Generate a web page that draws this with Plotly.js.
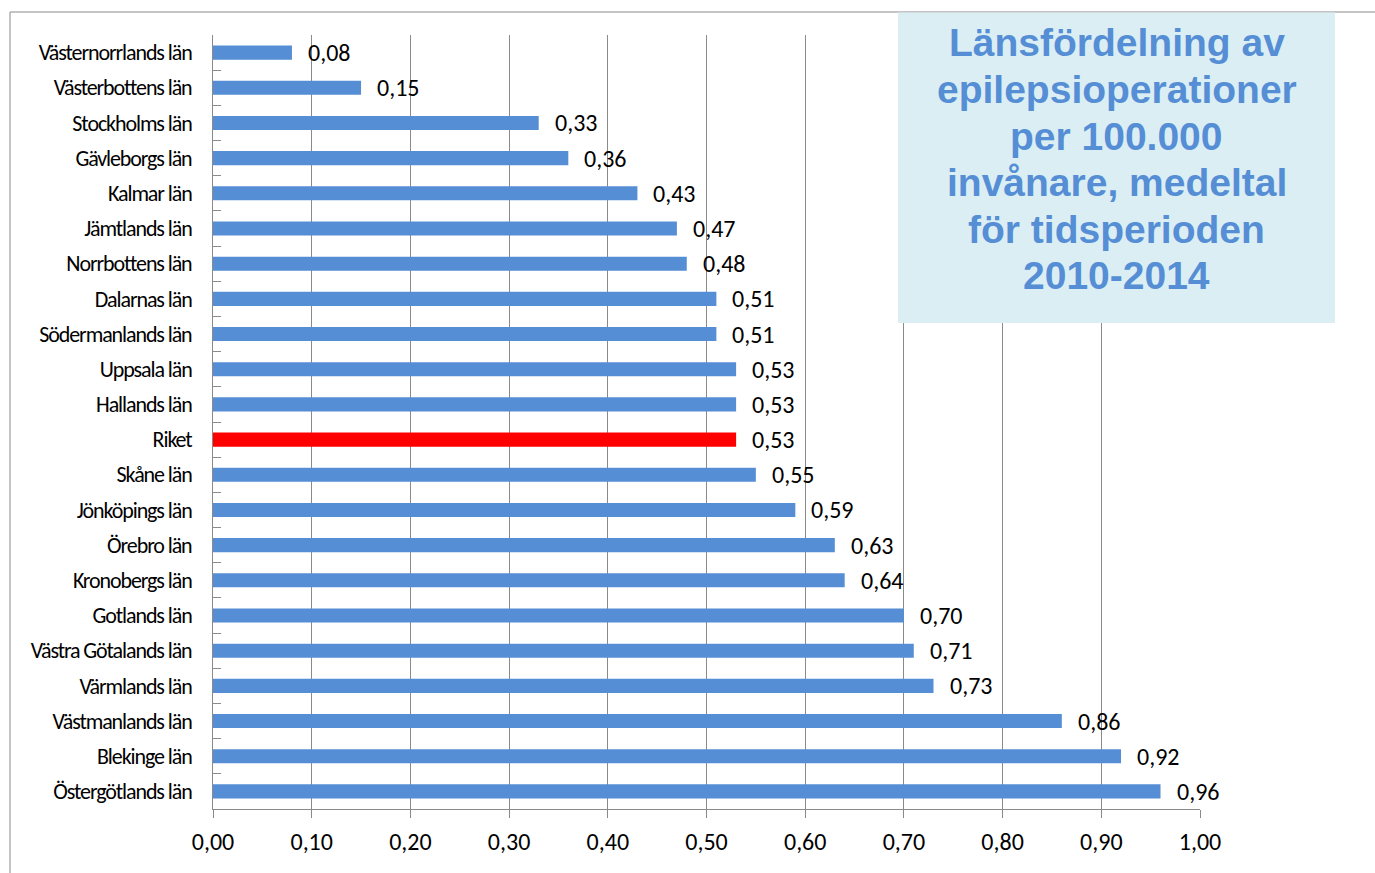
<!DOCTYPE html>
<html>
<head>
<meta charset="utf-8">
<script src="https://cdn.plot.ly/plotly-3.0.1.min.js"></script>
<style>
  html, body { margin: 0; padding: 0; background: #ffffff; }
  #chart { width: 1375px; height: 873px; }
  /* tightly set county names */
  #chart .ytick text { letter-spacing: -1.1px; }
</style>
</head>
<body>
<div id="chart"></div>
<script>
// Counties, listed from top to bottom
const counties = [
  "Västernorrlands län", "Västerbottens län", "Stockholms län", "Gävleborgs län",
  "Kalmar län", "Jämtlands län", "Norrbottens län", "Dalarnas län",
  "Södermanlands län", "Uppsala län", "Hallands län", "Riket",
  "Skåne län", "Jönköpings län", "Örebro län", "Kronobergs län",
  "Gotlands län", "Västra Götalands län", "Värmlands län", "Västmanlands län",
  "Blekinge län", "Östergötlands län"
];

// Epilepsy operations per 100 000 inhabitants, mean 2010-2014
const rates = [
  0.08, 0.15, 0.33, 0.36,
  0.43, 0.47, 0.48, 0.51,
  0.51, 0.53, 0.53, 0.53,
  0.55, 0.59, 0.63, 0.64,
  0.70, 0.71, 0.73, 0.86,
  0.92, 0.96
];

// National average highlighted
const nationalLabel = "Riket";

const titleLines = [
  "Länsfördelning av",
  "epilepsioperationer",
  "per 100.000",
  "invånare, medeltal",
  "för tidsperioden",
  "2010-2014"
];

const xTicks = [0, 0.1, 0.2, 0.3, 0.4, 0.5, 0.6, 0.7, 0.8, 0.9, 1.0];

const blue = "#558ED5";
const red = "#FF0000";
const grid = "#8A8A8A";
const bodyFont = "Carlito, Calibri, Lato, sans-serif";
const titleFont = "'Liberation Sans', Arial, Helvetica, sans-serif";

const fmt = v => v.toFixed(2).replace(".", ",");

const W = 1375, H = 873;
const margin = { l: 213, r: 175, t: 35, b: 64 };
const pw = W - margin.l - margin.r, ph = H - margin.t - margin.b;
// pixel -> paper helpers for the frame and the title box
const px = x => (x - margin.l) / pw;
const py = y => 1 - (y - margin.t) / ph;

const trace = {
  type: "bar",
  orientation: "h",
  x: rates,
  y: counties,
  marker: {
    color: counties.map(c => c === nationalLabel ? red : blue),
    line: { width: 0 }
  },
  hoverinfo: "x+y",
  showlegend: false
};

const valueLabels = counties.map((c, i) => ({
  x: rates[i],
  y: c,
  xref: "x",
  yref: "y",
  text: fmt(rates[i]),
  showarrow: false,
  xanchor: "left",
  yanchor: "middle",
  xshift: 14,
  yshift: 0,
  font: { family: bodyFont, size: 24, color: "#000000" }
}));

// title set line by line inside its box
const boxLeft = 898, boxRight = 1335, firstLine = 43, lineStep = 46.5;
const titleAnnotations = titleLines.map((line, i) => ({
  xref: "paper",
  yref: "paper",
  x: px((boxLeft + boxRight) / 2),
  y: py(firstLine + i * lineStep),
  xanchor: "center",
  yanchor: "middle",
  text: "<b>" + line + "</b>",
  showarrow: false,
  font: { family: titleFont, size: 39, color: blue }
}));

const layout = {
  width: W,
  height: H,
  margin: margin,
  paper_bgcolor: "#ffffff",
  plot_bgcolor: "#ffffff",
  separators: ", ",
  bargap: 0.6,
  xaxis: {
    range: [0, 1],
    tickvals: xTicks,
    tickformat: ".2f",
    ticks: "outside",
    ticklen: 8,
    tickcolor: grid,
    tickwidth: 1,
    ticklabelstandoff: 3,
    showgrid: true,
    gridcolor: grid,
    gridwidth: 1,
    showline: true,
    linecolor: grid,
    linewidth: 1,
    zeroline: false,
    fixedrange: true,
    tickfont: { family: bodyFont, size: 24, color: "#000000" }
  },
  yaxis: {
    type: "category",
    autorange: "reversed",
    ticks: "inside",
    tickson: "boundaries",
    ticklen: 8,
    tickcolor: grid,
    tickwidth: 1,
    ticklabelstandoff: 16,
    showgrid: false,
    showline: true,
    linecolor: grid,
    linewidth: 1,
    zeroline: false,
    fixedrange: true,
    tickfont: { family: bodyFont, size: 22, color: "#000000" }
  },
  shapes: [
    // chart frame (top and left edges)
    { type: "line", xref: "paper", yref: "paper", x0: px(10), x1: px(W + 5), y0: py(12), y1: py(12),
      line: { color: grid, width: 1 }, layer: "above" },
    { type: "line", xref: "paper", yref: "paper", x0: px(10), x1: px(10), y0: py(12), y1: py(H + 5),
      line: { color: grid, width: 1 }, layer: "above" },
    // title box
    { type: "rect", xref: "paper", yref: "paper", x0: px(898), x1: px(1335), y0: py(12.5), y1: py(323),
      fillcolor: "#DBEEF4", line: { width: 0 }, layer: "above" }
  ],
  annotations: valueLabels.concat(titleAnnotations)
};

Plotly.newPlot("chart", [trace], layout, { displayModeBar: false, staticPlot: true });
</script>
</body>
</html>
